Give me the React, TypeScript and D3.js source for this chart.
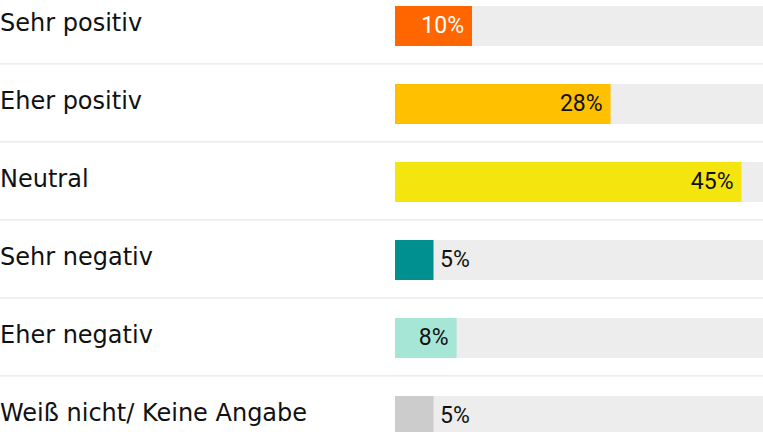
import React, { useEffect, useRef } from "react";
import * as d3 from "d3";

const categories = ["Sehr positiv", "Eher positiv", "Neutral", "Sehr negativ", "Eher negativ", "Weiß nicht/ Keine Angabe"];
const values = [10, 28, 45, 5, 8, 5];
const colors = ["#ff6600", "#ffc000", "#f5e50f", "#009090", "#a6e6d6", "#cccccc"];
const labelColors = ["#ffffff", "#111111", "#111111", "#111111", "#111111", "#111111"];

const W = 763;
const H = 432;

export default function App() {
  const ref = useRef<SVGSVGElement>(null);
  useEffect(() => {
    const svg = d3.select(ref.current);
    svg.selectAll("*").remove();
    const y = d3.scaleBand<string>().domain(categories)
      .range([-13, -13 + 78 * categories.length])
      .paddingInner(38 / 78).paddingOuter(19 / 78);
    const x = d3.scaleLinear().domain([0, 100]).range([395, 395 + 770]);
    const labelFont = "'DejaVu Sans', sans-serif";
    const valueFont = "Roboto, sans-serif";

    const g = svg.append("g");
    const rows = g.selectAll("g.row").data(categories).join("g").attr("class", "row");

    rows.append("rect")
      .attr("x", 0).attr("width", W)
      .attr("y", (d) => (y(d) as number) + y.bandwidth() + 17)
      .attr("height", 1.6)
      .attr("fill", "#ececec")
      .attr("display", (d, i) => (i < categories.length - 1 ? null : "none"));

    rows.append("rect")
      .attr("x", x(0)).attr("width", x(100) - x(0))
      .attr("y", (d) => y(d) as number).attr("height", y.bandwidth())
      .attr("fill", "#ededed");

    rows.append("rect")
      .attr("x", x(0)).attr("width", (d, i) => x(values[i]) - x(0))
      .attr("y", (d) => y(d) as number).attr("height", y.bandwidth())
      .attr("fill", (d, i) => colors[i]);

    rows.append("text")
      .attr("x", 0)
      .attr("y", (d) => (y(d) as number) + y.bandwidth() / 2 + 5)
      .attr("font-family", labelFont).attr("font-size", 24).attr("fill", "#111")
      .text((d) => d);

    const inside = (i: number) => x(values[i]) - x(0) > 45;
    rows.append("text")
      .attr("x", (d, i) => (inside(i) ? x(values[i]) - 8 : x(values[i]) + 6.5))
      .attr("text-anchor", (d, i) => (inside(i) ? "end" : "start"))
      .attr("y", (d) => (y(d) as number) + y.bandwidth() / 2 + 6.5)
      .attr("font-family", valueFont).attr("font-size", 23)
      .attr("fill", (d, i) => labelColors[i])
      .text((d, i) => `${values[i]}%`);
  }, []);
  return (
    <svg ref={ref} width={W} height={H} style={{ position: "absolute", left: 0, top: 0, background: "#fff" }} />
  );
}
